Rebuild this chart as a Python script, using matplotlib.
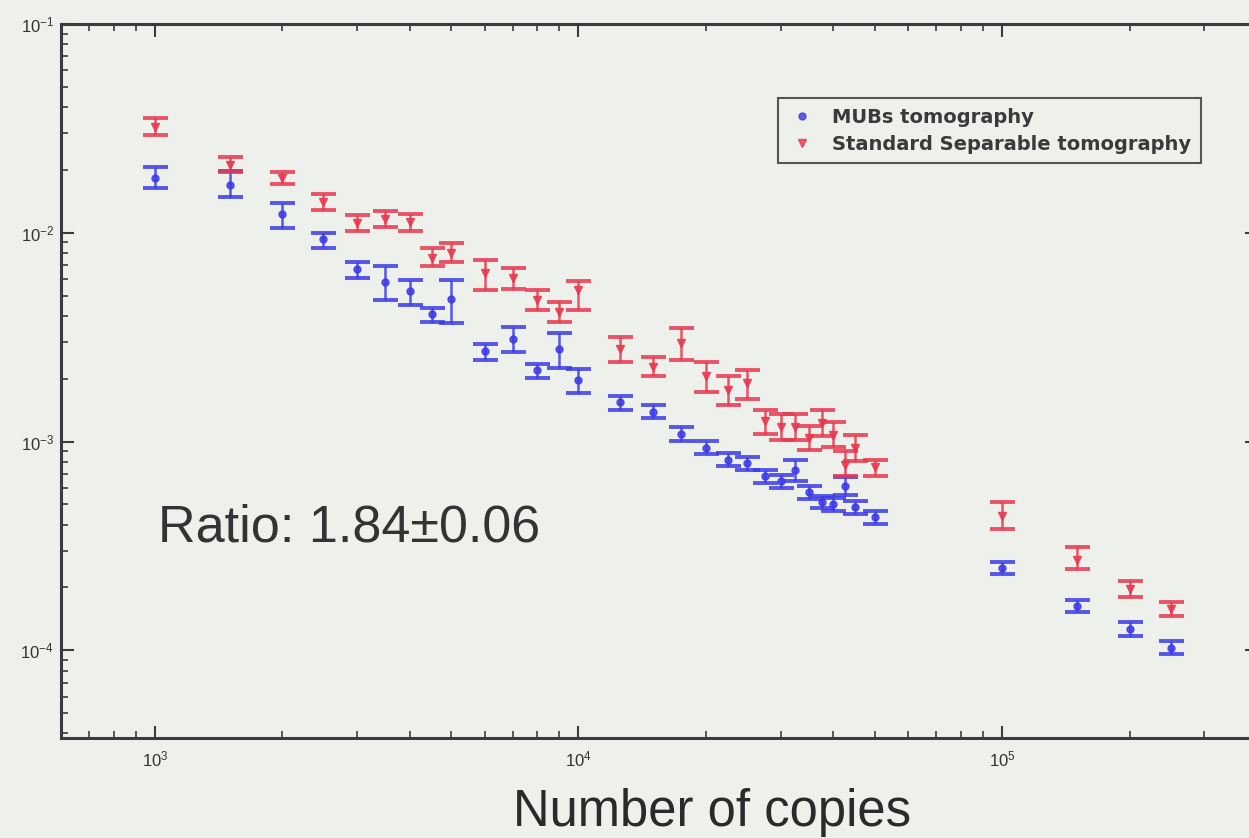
import matplotlib
matplotlib.use("Agg")
from matplotlib import pyplot as plt
from matplotlib.lines import Line2D
import numpy as np

plt.rcParams['font.family'] = ['Liberation Sans', 'DejaVu Sans']
plt.rcParams['mathtext.fontset'] = 'custom'
plt.rcParams['mathtext.rm'] = 'Liberation Sans:bold'
plt.rcParams['mathtext.it'] = 'Liberation Sans:bold'

copies = [1000, 1500, 2000, 2500, 3000, 3500, 4000, 4500, 5000, 6000, 7000,
          8000, 9000, 10000, 12500, 15000, 17500, 20000, 22500, 25000, 27500,
          30000, 32500, 35000, 37500, 40000, 42500, 45000, 50000, 100000,
          150000, 200000, 250000]

# MUBs tomography: value, lower end, upper end of error bar
mub = [0.0183, 0.0170, 0.01233, 0.00935, 0.00673, 0.00583, 0.00528, 0.00410,
       0.00483, 0.00270, 0.00311, 0.00219, 0.00276, 0.00198, 0.00154, 0.00139,
       0.00109, 0.000935, 0.000820, 0.000785, 0.000681, 0.000644, 0.000734,
       0.000570, 0.000511, 0.000500, 0.000610, 0.000483, 0.000433, 0.000247,
       0.000163, 0.000126, 0.000103]
mub_lo = [0.0164, 0.01486, 0.01057, 0.00847, 0.0061, 0.00478, 0.00453, 0.00375,
          0.00371, 0.00247, 0.00267, 0.00202, 0.00226, 0.00171, 0.00141, 0.00129,
          0.00101, 0.000867, 0.000760, 0.000727, 0.000631, 0.000597, 0.000644,
          0.000530, 0.000478, 0.000467, 0.000557, 0.000450, 0.000403, 0.000231,
          0.000152, 0.000117, 0.0000955]
mub_hi = [0.0207, 0.0198, 0.0139, 0.0100, 0.00726, 0.00695, 0.00595, 0.00438,
          0.00595, 0.00294, 0.00355, 0.00236, 0.00332, 0.00223, 0.00166, 0.00150,
          0.00118, 0.00101, 0.000880, 0.000845, 0.000732, 0.000693, 0.000820,
          0.000612, 0.000546, 0.000535, 0.000673, 0.000518, 0.000465, 0.000264,
          0.000174, 0.000136, 0.000111]

# Standard separable tomography
std = [0.0321, 0.0211, 0.0183, 0.01406, 0.01116, 0.01166, 0.0112, 0.00759,
       0.00802, 0.00644, 0.0061, 0.00478, 0.00419, 0.00533, 0.00276, 0.00228,
       0.00298, 0.00205, 0.00177, 0.00190, 0.00125, 0.00117, 0.00117, 0.00104,
       0.00122, 0.00108, 0.000776, 0.000927, 0.000752, 0.000438, 0.000272,
       0.000196, 0.000157]
std_lo = [0.0294, 0.0196, 0.0171, 0.0129, 0.0102, 0.0107, 0.0102, 0.00695,
          0.00726, 0.00533, 0.0054, 0.00428, 0.00375, 0.00428, 0.00241, 0.00205,
          0.00247, 0.00173, 0.00149, 0.00159, 0.00109, 0.00102, 0.00102, 0.00091,
          0.00106, 0.00094, 0.000681, 0.000811, 0.000681, 0.000379, 0.000244,
          0.000179, 0.000146]
std_hi = [0.0355, 0.0231, 0.0195, 0.0154, 0.0121, 0.0127, 0.0123, 0.00847,
          0.00895, 0.00743, 0.0068, 0.00533, 0.00468, 0.00589, 0.00315, 0.00255,
          0.00351, 0.00241, 0.00205, 0.00221, 0.00142, 0.00135, 0.00135, 0.00119,
          0.00142, 0.00124, 0.000896, 0.00107, 0.00082, 0.000511, 0.000311,
          0.000214, 0.000171]

bg = '#eef0eb'
fig = plt.figure(figsize=(12.49, 8.38), dpi=100, facecolor=bg)
ax = fig.add_axes([61/1249, 1 - 738/838, (1257 - 61)/1249, (738 - 24)/838])
ax.set_facecolor(bg)
ax.set_xscale('log')
ax.set_yscale('log')

blue = '#3b3be8'
red = '#e8384f'

def yerr(c, lo, hi):
    c = np.array(c)
    return [c - np.array(lo), np.array(hi) - c]

ax.errorbar(copies, mub, yerr=yerr(mub, mub_lo, mub_hi), fmt='o', color=blue,
            ms=5, elinewidth=1.8, capsize=9, capthick=2.8, alpha=0.85)
ax.errorbar(copies, std, yerr=yerr(std, std_lo, std_hi), fmt='v', color=red,
            ms=6, elinewidth=1.8, capsize=9, capthick=2.8, alpha=0.85)

ax.set_xlim(600, 4e5)
ax.set_ylim(3.8e-5, 1e-1)

for s in ax.spines.values():
    s.set_linewidth(2.2)
    s.set_color('#3a3a40')
ax.tick_params(which='both', direction='in', top=True, right=True,
               colors='#3a3a40', labelcolor='#333333', labelsize=12)
ax.tick_params(which='major', length=9, width=1.5)
ax.tick_params(which='minor', length=5, width=1.2)
ax.tick_params(axis='x', pad=8)
ax.tick_params(axis='y', pad=5)

handles = [Line2D([], [], ls='none', marker='o', ms=5, color=blue, alpha=0.8),
           Line2D([], [], ls='none', marker='v', ms=6, color=red, alpha=0.8)]
leg = ax.legend(handles, ['MUBs tomography', 'Standard Separable tomography'],
                loc='upper left', bbox_to_anchor=((778 - 61)/1196, 1 - (98 - 24)/714),
                borderaxespad=0,
                prop={'family': 'DejaVu Sans', 'size': 14, 'weight': 'bold'},
                frameon=True, fancybox=False, borderpad=0.5, handletextpad=0.8,
                handlelength=1.5, labelspacing=0.4, labelcolor='#3a3a3a')
leg.get_frame().set_edgecolor('#555555')
leg.get_frame().set_linewidth(1.5)
leg.get_frame().set_facecolor(bg)
leg.get_frame().set_alpha(1)

fig.text(158/1249, 1 - 541/838, 'Ratio: 1.84\u00b10.06', fontsize=37.5,
         color='#333333', ha='left', va='baseline')
fig.text(712/1249, 1 - 826/838, 'Number of copies', fontsize=36.5,
         color='#2a2a2a', ha='center', va='baseline')

fig.savefig('out.png', dpi=100, facecolor=bg)
